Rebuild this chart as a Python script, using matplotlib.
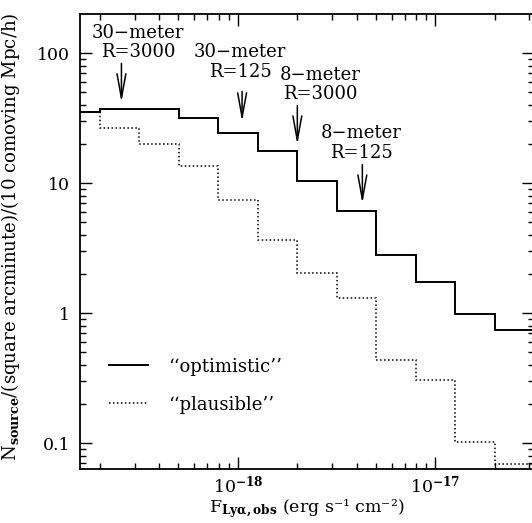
import numpy as np
import matplotlib
matplotlib.use("Agg")
import matplotlib.pyplot as plt
from matplotlib.ticker import FixedLocator, FixedFormatter, LogLocator, NullFormatter

plt.rcParams['font.family'] = ['DejaVu Serif']
plt.rcParams['mathtext.fontset'] = 'dejavuserif'

# ---- data ----
log_flux_edges = [-18.9, -18.7, -18.5, -18.3, -18.1, -17.9, -17.7, -17.5,
                  -17.3, -17.1, -16.9, -16.7, -16.5]
optimistic = [35.4, 37.0, 37.0, 31.5, 24.1, 17.5, 10.4, 6.07, 2.82, 1.75, 0.99, 0.746]
plausible = [35.4, 26.7, 20.0, 13.5, 7.43, 3.66, 2.04, 1.30, 0.439, 0.308, 0.102, 0.069]
series_labels = ["\u2018\u2018optimistic\u2019\u2019", "\u2018\u2018plausible\u2019\u2019"]

arrow_flux = [2.57e-19, 1.05e-18, 2.0e-18, 4.27e-18]
arrow_top = [83.2, 50.7, 39.4, 13.9]
arrow_tip = [41.8, 29.8, 19.8, 6.97]
arrow_labels = ["30\u2212meter\nR=3000", "30\u2212meter\nR=125", "8\u2212meter\nR=3000", "8\u2212meter\nR=125"]
label_flux = [3.12e-19, 1.026e-18, 2.61e-18, 4.2e-18]
label_y = [120.6, 85.4, 57.4, 20.4]

yticks = [0.1, 1, 10, 100]
ytick_labels = ["0.1", "1", "10", "100"]
xticks = [1e-18, 1e-17]
xtick_labels = [r"10$^{\mathbf{-18}}$", r"10$^{\mathbf{-17}}$"]

edges = 10.0 ** np.array(log_flux_edges)

fig = plt.figure(figsize=(5.32, 5.23), dpi=100)
ax = fig.add_axes([80/532, (523-469.3)/523, (534-80)/532, (469.3-14)/523])
ax.set_xscale('log')
ax.set_yscale('log')
ax.set_xlim(10**-18.8, 10**-16.5)
ax.set_ylim(10**-1.2, 10**2.3)

ax.stairs(optimistic, edges, baseline=None, color='black', lw=1.4, label=series_labels[0])
ax.stairs(plausible, edges, baseline=None, color='black', lw=1.1,
          linestyle=(0, (1, 1.6)), label=series_labels[1])

for xf, yt, yp, lab, lx, ly in zip(arrow_flux, arrow_top, arrow_tip, arrow_labels, label_flux, label_y):
    ax.annotate('', xy=(xf, yp), xytext=(xf, yt),
                arrowprops=dict(arrowstyle='->,head_length=1.75,head_width=0.32',
                                lw=1.1, color='black', mutation_scale=10,
                                shrinkA=0, shrinkB=0))
    ax.text(lx, ly, lab, ha='center', va='center', fontsize=13,
            linespacing=1.12, multialignment='center')

ax.yaxis.set_major_locator(FixedLocator(yticks))
ax.yaxis.set_major_formatter(FixedFormatter(ytick_labels))
ax.yaxis.set_minor_locator(LogLocator(base=10, subs=np.arange(2, 10)))
ax.yaxis.set_minor_formatter(NullFormatter())
ax.xaxis.set_major_locator(FixedLocator(xticks))
ax.xaxis.set_major_formatter(FixedFormatter(xtick_labels))
ax.xaxis.set_minor_locator(LogLocator(base=10, subs=np.arange(2, 10)))
ax.xaxis.set_minor_formatter(NullFormatter())

ax.tick_params(which='both', direction='in', top=True, right=True, width=1.0)
ax.tick_params(which='major', length=8.6, labelsize=12.5, pad=7)
ax.tick_params(axis='x', which='major', pad=4)
ax.tick_params(which='minor', length=4.3)
for s in ax.spines.values():
    s.set_linewidth(1.3)

ax.set_xlabel("F$_{\\mathbf{Ly\\alpha,obs}}$ (erg s\u207b\u00b9 cm\u207b\u00b2)", fontsize=12.5, labelpad=0)
ax.set_ylabel(r"N$_{\mathbf{source}}$/(square arcminute)/(10 comoving Mpc/h)", fontsize=13.1)
ax.yaxis.set_label_coords(-0.128, 0.511)

leg = ax.legend(loc='upper left', bbox_to_anchor=(0.063, 0.245), frameon=False,
                fontsize=13, handlelength=2.2, handletextpad=1.1, labelspacing=1.1,
                borderpad=0, borderaxespad=0)

fig.savefig('out.png', dpi=100)
